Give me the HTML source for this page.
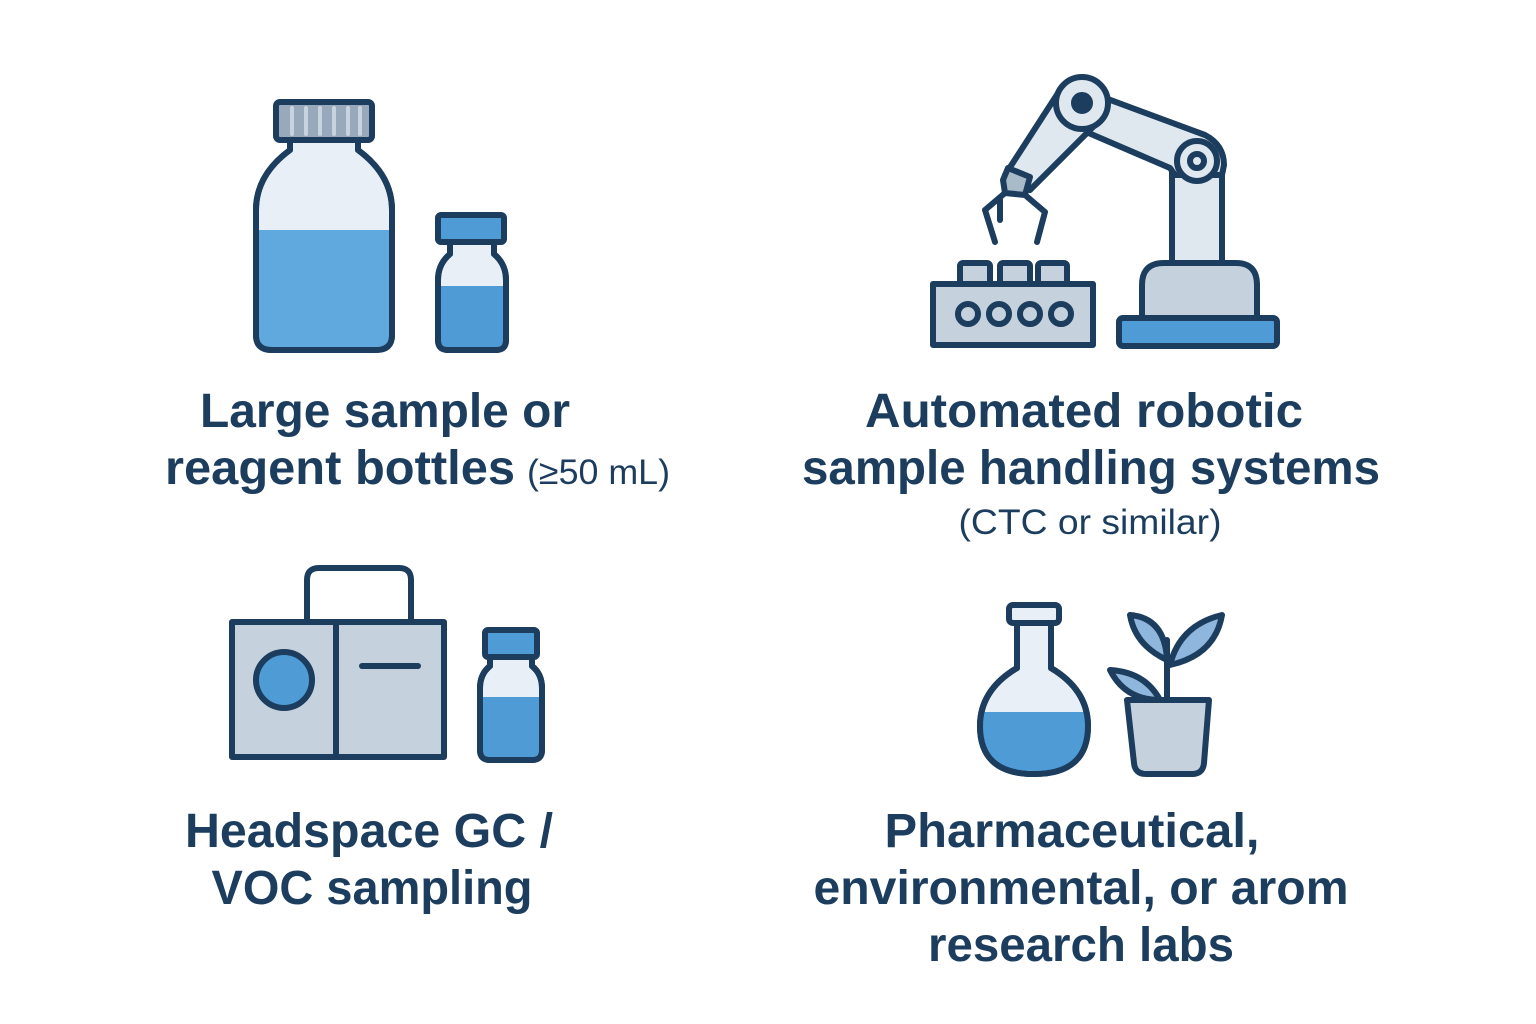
<!DOCTYPE html>
<html><head><meta charset="utf-8"><style>
html,body{margin:0;padding:0;background:#fff;}
svg{display:block}
text{font-family:"Liberation Sans",sans-serif;font-weight:bold;fill:#1c3d5e;text-anchor:middle}
</style></head><body>
<svg width="1536" height="1024" viewBox="0 0 1536 1024">
<g stroke="#1c3d5e" stroke-width="6" stroke-linejoin="round" stroke-linecap="round">
<!-- big bottle -->
<path d="M290 140 L290 150 Q256 175 256 210 L256 335 Q256 350 272 350 L376 350 Q392 350 392 335 L392 210 Q392 175 358 150 L358 140 Z" fill="#e8eff6"/>
<path d="M259 230 L389 230 L389 335 Q389 347 376 347 L272 347 Q259 347 259 335 Z" fill="#5fa9de" stroke="none"/>
<path d="M290 140 L290 150 Q256 175 256 210 L256 335 Q256 350 272 350 L376 350 Q392 350 392 335 L392 210 Q392 175 358 150 L358 140 Z" fill="none"/>
<rect x="276" y="102" width="96" height="38" rx="4" fill="#98a9bb"/>
<g stroke="#c7d3df" stroke-width="4"><line x1="292" y1="108" x2="292" y2="134"/><line x1="306" y1="108" x2="306" y2="134"/><line x1="320" y1="108" x2="320" y2="134"/><line x1="334" y1="108" x2="334" y2="134"/><line x1="348" y1="108" x2="348" y2="134"/><line x1="360" y1="108" x2="360" y2="134"/></g>
<!-- small bottle -->
<path d="M450 242 L450 254 Q438 264 438 280 L438 340 Q438 350 448 350 L496 350 Q506 350 506 340 L506 280 Q506 264 494 254 L494 242 Z" fill="#e8eff6"/>
<path d="M441 286 L503 286 L503 340 Q503 347 496 347 L448 347 Q441 347 441 340 Z" fill="#4e9bd6" stroke="none"/>
<path d="M450 242 L450 254 Q438 264 438 280 L438 340 Q438 350 448 350 L496 350 Q506 350 506 340 L506 280 Q506 264 494 254 L494 242 Z" fill="none"/>
<rect x="438" y="215" width="66" height="27" rx="3" fill="#4e9bd6"/>

<!-- robot -->
<rect x="1119" y="318" width="158" height="28" rx="4" fill="#4e9bd6"/>
<path d="M1142 318 L1142 285 Q1142 263 1164 263 L1236 263 Q1257 263 1257 285 L1257 318 Z" fill="#c5d2de"/>
<path d="M1172 263 L1172 160 L1222 160 L1222 263 Z" fill="#dfe7ef"/>
<path d="M1070 85 L1205 135 Q1224 145 1224 165 L1222 175 L1175 175 L1170 168 L1070 125 Z" fill="#dfe7ef"/>
<path d="M1060 90 L1100 120 L1030 190 L1005 175 Z" fill="#dfe7ef"/>
<circle cx="1082" cy="103" r="26" fill="#dfe7ef"/>
<circle cx="1082" cy="103" r="8" fill="#1c3d5e"/>
<circle cx="1197" cy="161" r="20" fill="#dfe7ef"/>
<circle cx="1197" cy="161" r="7" fill="#dfe7ef"/>
<path d="M1008 168 L1030 177 L1025 195 L1005 193 L1003 180 Z" fill="#a9bac9"/>
<path d="M1005 193 L985 210 L995 242" fill="none"/>
<path d="M1000 200 L1000 220" fill="none"/>
<path d="M1025 195 L1045 212 L1037 242" fill="none"/>
<rect x="933" y="284" width="160" height="61" fill="#c5d2de"/>
<rect x="960" y="263" width="30" height="21" rx="3" fill="#c5d2de"/>
<rect x="1000" y="263" width="30" height="21" rx="3" fill="#c5d2de"/>
<rect x="1038" y="263" width="29" height="21" rx="3" fill="#c5d2de"/>
<circle cx="968" cy="314" r="10" fill="#c5d2de"/><circle cx="999" cy="314" r="10" fill="#c5d2de"/><circle cx="1030" cy="314" r="10" fill="#c5d2de"/><circle cx="1061" cy="314" r="10" fill="#c5d2de"/>

<!-- headspace -->
<path d="M307 622 L307 580 Q307 568 319 568 L399 568 Q411 568 411 580 L411 622" fill="none"/>
<rect x="232" y="622" width="212" height="135" fill="#c5d2de"/>
<line x1="336" y1="622" x2="336" y2="757"/>
<circle cx="284" cy="680" r="28" fill="#4e9bd6"/>
<line x1="362" y1="666" x2="418" y2="666"/>
<path d="M490 657 L490 666 Q480 674 480 688 L480 750 Q480 760 490 760 L532 760 Q542 760 542 750 L542 688 Q542 674 532 666 L532 657 Z" fill="#e8eff6"/>
<path d="M483 697 L539 697 L539 750 Q539 757 532 757 L490 757 Q483 757 483 750 Z" fill="#4e9bd6" stroke="none"/>
<path d="M490 657 L490 666 Q480 674 480 688 L480 750 Q480 760 490 760 L532 760 Q542 760 542 750 L542 688 Q542 674 532 666 L532 657 Z" fill="none"/>
<rect x="485" y="630" width="52" height="27" rx="3" fill="#4e9bd6"/>

<!-- flask -->
<path d="M1017 623 L1017 668 Q980 690 980 726 Q980 774 1034 774 Q1088 774 1088 726 Q1088 690 1051 668 L1051 623 Z" fill="#e8eff6"/>
<path d="M983 712 L1085 712 Q1088 720 1088 728 Q1088 771 1034 771 Q980 771 980 728 Q980 720 983 712 Z" fill="#4e9bd6" stroke="none"/>
<path d="M1017 623 L1017 668 Q980 690 980 726 Q980 774 1034 774 Q1088 774 1088 726 Q1088 690 1051 668 L1051 623 Z" fill="none"/>
<rect x="1009" y="605" width="50" height="18" rx="4" fill="#e8eff6"/>
<!-- plant -->
<path d="M1167 700 L1167 640" fill="none"/>
<path d="M1167 660 Q1135 645 1130 615 Q1165 618 1167 660 Z" fill="#8fb6dc"/>
<path d="M1170 665 Q1180 625 1222 615 Q1215 655 1170 665 Z" fill="#8fb6dc"/>
<path d="M1160 700 Q1145 672 1110 670 Q1125 700 1160 700 Z" fill="#8fb6dc"/>
<path d="M1127 700 L1209 700 L1204 763 Q1203 774 1192 774 L1146 774 Q1135 774 1134 763 Z" fill="#c5d2de"/>
</g>
<g font-size="48">
<text x="385" y="427" textLength="370" lengthAdjust="spacingAndGlyphs">Large sample or</text>
<text x="165" y="484" style="text-anchor:start" textLength="350" lengthAdjust="spacingAndGlyphs">reagent bottles</text>
<text x="527" y="484" style="text-anchor:start;font-weight:normal" font-size="35" textLength="143" lengthAdjust="spacingAndGlyphs">(≥50 mL)</text>
<text x="1084" y="427" textLength="438" lengthAdjust="spacingAndGlyphs">Automated robotic</text>
<text x="1091" y="484" textLength="578" lengthAdjust="spacingAndGlyphs">sample handling systems</text>
<text x="1090" y="534" style="font-weight:normal" font-size="35" textLength="263" lengthAdjust="spacingAndGlyphs">(CTC or similar)</text>
<text x="369" y="847" textLength="368" lengthAdjust="spacingAndGlyphs">Headspace GC /</text>
<text x="372" y="904" textLength="321" lengthAdjust="spacingAndGlyphs">VOC sampling</text>
<text x="1072" y="847" textLength="375" lengthAdjust="spacingAndGlyphs">Pharmaceutical,</text>
<text x="1081" y="904" textLength="535" lengthAdjust="spacingAndGlyphs">environmental, or arom</text>
<text x="1081" y="961" textLength="306" lengthAdjust="spacingAndGlyphs">research labs</text>
</g>
</svg>
</body></html>
